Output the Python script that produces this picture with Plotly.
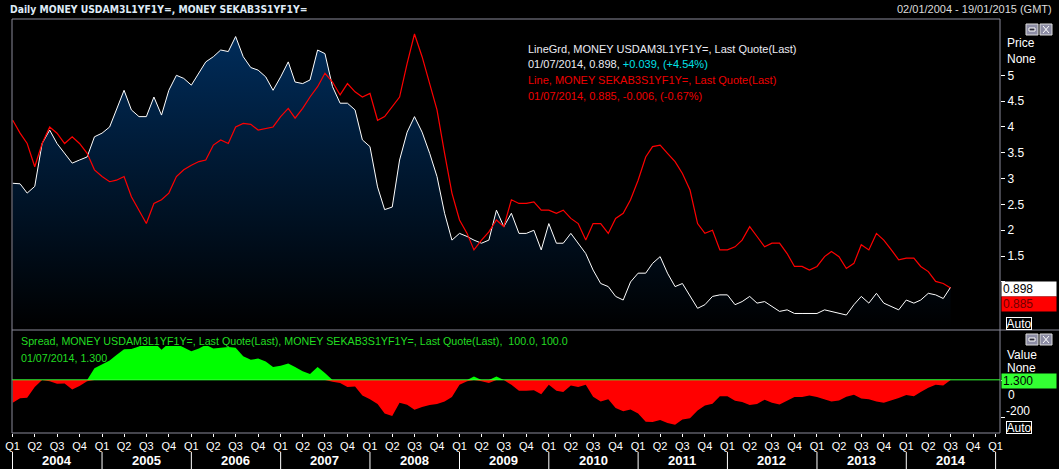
import pandas as pd
import plotly.graph_objects as go

# monthly readings, Jan 2004 .. Jul 2014 (first of month)
usd_fwd = [
    2.91, 2.90, 2.72, 2.85, 3.68, 3.94, 3.68, 3.49, 3.30, 3.36, 3.42, 3.81,
    3.88, 4.00, 4.33, 4.71, 4.33, 4.20, 4.20, 4.58, 4.23, 4.71, 5.00, 4.94,
    4.81, 5.04, 5.26, 5.36, 5.49, 5.46, 5.75, 5.36, 5.15, 5.10, 4.97, 4.71,
    4.97, 5.26, 4.87, 4.84, 4.91, 5.49, 5.42, 4.78, 4.46, 4.46, 4.33, 3.75,
    3.62, 2.84, 2.40, 2.45, 3.36, 3.90, 4.20, 3.90, 3.49, 3.04, 2.33, 1.81,
    1.94, 1.88, 1.81, 1.75, 1.81, 2.39, 2.07, 2.33, 1.94, 1.94, 2.00, 1.62,
    2.13, 1.75, 1.75, 1.94, 1.75, 1.55, 1.23, 0.97, 0.91, 0.72, 0.65, 1.00,
    1.17, 1.17, 1.36, 1.49, 1.17, 0.91, 0.97, 0.72, 0.49, 0.56, 0.72, 0.75,
    0.75, 0.56, 0.62, 0.72, 0.59, 0.62, 0.52, 0.43, 0.46, 0.39, 0.39, 0.39,
    0.39, 0.46, 0.43, 0.39, 0.36, 0.56, 0.72, 0.59, 0.78, 0.59, 0.52, 0.46,
    0.65, 0.59, 0.65, 0.78, 0.75, 0.68, 0.898,
]
sek_fwd = [
    4.13, 3.88, 3.68, 3.23, 3.68, 4.00, 3.88, 3.68, 3.81, 3.68, 3.49, 3.17,
    3.04, 2.94, 2.97, 3.04, 2.65, 2.39, 2.13, 2.52, 2.59, 2.72, 3.04, 3.17,
    3.26, 3.33, 3.36, 3.65, 3.75, 3.68, 4.00, 4.07, 4.05, 3.94, 3.97, 4.00,
    4.20, 4.36, 4.17, 4.36, 4.58, 4.78, 5.04, 4.87, 4.62, 4.84, 4.68, 4.58,
    4.65, 4.13, 4.20, 4.39, 4.58, 5.23, 5.80, 5.36, 4.84, 4.33, 3.49, 2.72,
    2.20, 1.94, 1.62, 1.81, 1.97, 2.20, 2.07, 2.59, 2.52, 2.52, 2.55, 2.39,
    2.39, 2.33, 2.39, 2.23, 2.13, 1.81, 2.13, 2.13, 1.94, 2.23, 2.33, 2.59,
    2.97, 3.42, 3.62, 3.65, 3.49, 3.33, 3.10, 2.78, 2.13, 1.94, 2.00, 1.62,
    1.62, 1.68, 1.81, 2.07, 1.88, 1.68, 1.75, 1.75, 1.55, 1.30, 1.30, 1.23,
    1.30, 1.49, 1.59, 1.49, 1.26, 1.36, 1.72, 1.62, 1.94, 1.81, 1.62, 1.43,
    1.46, 1.46, 1.30, 1.20, 1.01, 0.97, 0.885,
]
dates = list(pd.date_range('2004-01-01', periods=len(usd_fwd), freq='MS'))
dates[0] = pd.Timestamp('2004-01-02')

years = list(range(2004, 2015))
price_ticks = [1, 1.5, 2, 2.5, 3, 3.5, 4, 4.5, 5]
spread_ticks = [0, -200]

spread = [(u - s) * 100 for u, s in zip(usd_fwd, sek_fwd)]
spread_pos = [max(v, 0) for v in spread]
spread_neg = [min(v, 0) for v in spread]
last_spread = round(spread[-1], 3)

W, H = 1059, 469
def px(x):
    return x / W
def py(y):
    return 1 - y / H

FONT = 'Liberation Sans'
FRAME = '#8a8a9a'

fig = go.Figure()
fig.add_trace(go.Scatter(
    x=dates, y=usd_fwd, mode='lines', line=dict(color='white', width=1),
    fill='tozeroy',
    fillgradient=dict(type='vertical', colorscale=[[0, '#000000'], [1, '#002d5c']],
                      start=0.07, stop=5.9),
    name='USDAM3L1YF1Y=', xaxis='x', yaxis='y',
))
fig.add_trace(go.Scatter(
    x=dates, y=sek_fwd, mode='lines', line=dict(color='#ff0000', width=1.2),
    name='SEKAB3S1YF1Y=', xaxis='x', yaxis='y',
))
fig.add_trace(go.Scatter(
    x=dates, y=spread_pos, mode='lines', line=dict(width=0, color='#00ff00'),
    fill='tozeroy', fillcolor='#00ff00', xaxis='x2', yaxis='y2',
))
fig.add_trace(go.Scatter(
    x=dates, y=spread_neg, mode='lines', line=dict(width=0, color='#ff0000'),
    fill='tozeroy', fillcolor='#ff0000', xaxis='x2', yaxis='y2',
))

qdates = list(pd.date_range('2004-01-01', '2015-01-01', freq='QS'))
qtext = ['Q%d' % ((d.month - 1) // 3 + 1) for d in qdates]
xrange_ = ['2003-12-30', '2015-01-19']

shapes = []
def seg(x0, y0, x1, y1, color=FRAME):
    shapes.append(dict(type='line', xref='paper', yref='paper',
                       x0=px(x0), y0=py(y0), x1=px(x1), y1=py(y1),
                       line=dict(color=color, width=1)))

seg(12, 19, 1000, 19)
seg(12, 19, 12, 433)
seg(1000, 19, 1000, 433)
seg(12, 330, 1059, 330)
seg(12, 433, 1000, 433)

# last value line in the spread panel
shapes.append(dict(type='line', xref='x2 domain', yref='y2', x0=0, x1=1,
                   y0=last_spread, y1=last_spread, line=dict(color='#33ff33', width=1)))

# year separators under the axis
for yr in years + [2015]:
    shapes.append(dict(type='line', xref='x2', yref='paper',
                       x0='%d-01-01' % yr, x1='%d-01-01' % yr, y0=py(452), y1=0,
                       line=dict(color='white', width=1)))

# little window buttons
for top in (24, 334):
    for left in (1026, 1040):
        shapes.append(dict(type='rect', xref='paper', yref='paper',
                           x0=px(left), x1=px(left + 12), y0=py(top), y1=py(top + 11),
                           fillcolor='#8c8ca4', line=dict(color='#dcdcdc', width=1)))
    shapes.append(dict(type='rect', xref='paper', yref='paper',
                       x0=px(1029), x1=px(1035), y0=py(top + 4), y1=py(top + 7),
                       fillcolor='#2a2a3a', line=dict(color='#ffffff', width=1)))
    seg(1043, top + 2, 1049, top + 9, '#ffffff')
    seg(1043, top + 9, 1049, top + 2, '#ffffff')

ann = []
def text(x, y, s, color='white', size=11, anchor='left', family=FONT):
    ann.append(dict(xref='paper', yref='paper', x=px(x), y=py(y), text=s,
                    showarrow=False, xanchor=anchor, yanchor='middle',
                    font=dict(family=family, size=size, color=color)))

text(8, 9, '<b>Daily MONEY USDAM3L1YF1Y=, MONEY SEKAB3S1YF1Y=</b>', '#dfeaf6', 10.3,
     family='DejaVu Sans Condensed')
text(1054, 9, '02/01/2004 - 19/01/2015 (GMT)', '#dcdcdc', 11, anchor='right')

text(526, 49, 'LineGrd, MONEY USDAM3L1YF1Y=, Last Quote(Last)', '#ececf4')
text(526, 64, '01/07/2014, %.3f, <span style="color:#00e0e8">+0.039, (+4.54%%)</span>' % usd_fwd[-1], '#ececf4')
text(526, 80, 'Line, MONEY SEKAB3S1YF1Y=, Last Quote(Last)', '#ee0000')
text(526, 96, '01/07/2014, %.3f, -0.006, (-0.67%%)' % sek_fwd[-1], '#ee0000')

text(19, 341, 'Spread, MONEY USDAM3L1YF1Y=, Last Quote(Last), MONEY SEKAB3S1YF1Y=, Last Quote(Last),  100.0, 100.0', '#22dd22', 10.7)
text(19, 358, '01/07/2014, %.3f' % last_spread, '#22dd22', 10.7)

text(1005, 43, 'Price', 'white', 12)
text(1005, 59, 'None', 'white', 12)
text(1005, 355, 'Value', 'white', 12)
text(1005, 368, 'None', 'white', 12)
text(1006, 395, '0', 'white', 12)
text(1004, 411, '-200', 'white', 12)

for yr in years:
    ann.append(dict(xref='x2', yref='paper', x='%d-07-01' % yr, y=py(460),
                    text='<b>%d</b>' % yr, showarrow=False, yanchor='middle',
                    font=dict(family=FONT, size=13, color='white')))

def box(y, s, bg, fg):
    ann.append(dict(xref='paper', yref='paper', x=px(1001), y=py(y), text=s,
                    showarrow=False, xanchor='left', yanchor='middle', align='left',
                    width=52, height=12, borderpad=1, bgcolor=bg,
                    font=dict(family=FONT, size=12, color=fg)))

box(289, '%.3f' % usd_fwd[-1], '#ffffff', '#000000')
box(303.5, '%.3f' % sek_fwd[-1], '#ff0000', '#700000')
box(380.5, '%.3f' % last_spread, '#33ff33', '#000000')

for yc in (323, 427.5):
    ann.append(dict(xref='paper', yref='paper', x=px(1019), y=py(yc), text='Auto',
                    showarrow=False, xanchor='center', yanchor='middle',
                    width=24, height=11, borderpad=0, bordercolor='white', borderwidth=1,
                    bgcolor='black', font=dict(family=FONT, size=12, color='white')))

fig.update_layout(
    width=W, height=H,
    margin=dict(l=0, r=0, t=0, b=0, autoexpand=False),
    paper_bgcolor='black', plot_bgcolor='black',
    showlegend=False,
    shapes=shapes,
    annotations=ann,
    xaxis=dict(domain=[px(12), px(1000)], range=xrange_, type='date',
               showticklabels=False, showgrid=False, zeroline=False, ticks='',
               anchor='y', matches='x2', automargin=False),
    # the "1" label sits under the last-value box, so only its tick is kept
    yaxis=dict(domain=[py(330), py(19)], range=[0.07, 6.09], side='right',
               tickvals=price_ticks,
               ticktext=['' if v == 1 else '%g' % v for v in price_ticks],
               ticks='outside', ticklen=4, tickcolor='white',
               tickfont=dict(family=FONT, size=12, color='white'),
               showgrid=False, zeroline=False, anchor='x', automargin=False),
    xaxis2=dict(domain=[px(12), px(1000)], range=xrange_, type='date',
                tickvals=qdates, ticktext=qtext, ticks='outside', ticklen=3,
                tickcolor='white', tickfont=dict(family=FONT, size=11, color='white'),
                showgrid=False, zeroline=False, anchor='y2', automargin=False),
    yaxis2=dict(domain=[py(433), py(346)], range=[-286, 184], side='right',
                tickvals=spread_ticks, ticktext=['' for v in spread_ticks],
                ticks='outside', ticklen=4, tickcolor='white',
                showgrid=False, zeroline=False, anchor='x2', automargin=False),
)

fig.write_html('out.html', config={'displayModeBar': False},
               post_script="document.body.style.margin='0';document.body.style.overflow='hidden';")
